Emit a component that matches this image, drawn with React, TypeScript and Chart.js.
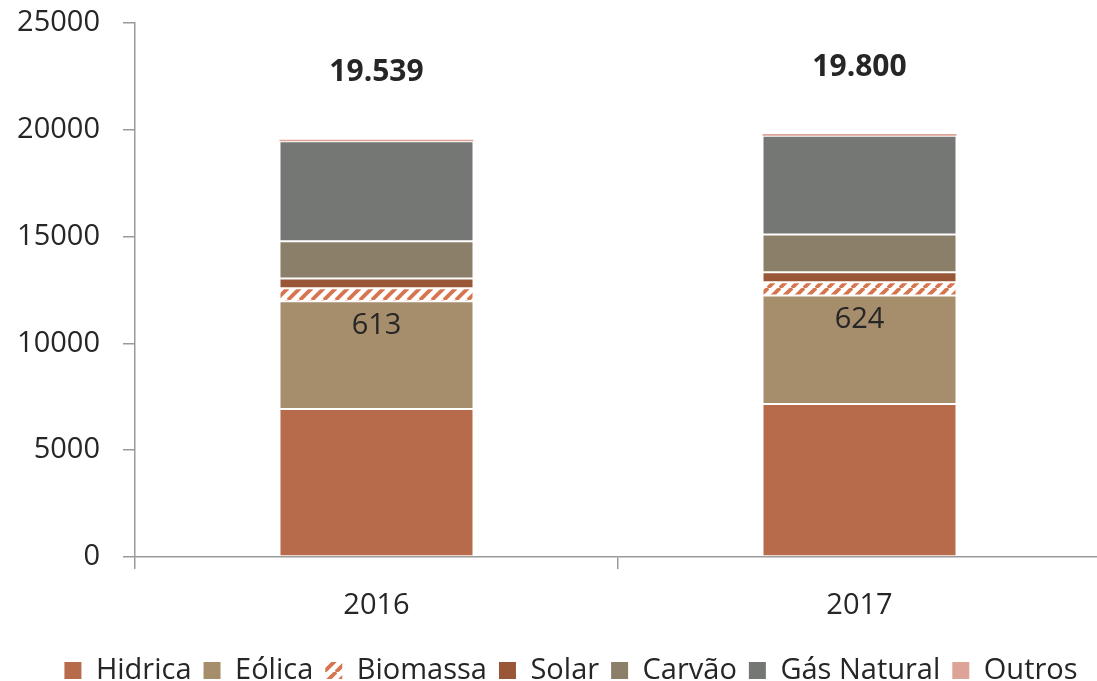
import React, { useEffect, useRef } from "react";
import { Chart, registerables } from "chart.js";

Chart.register(...registerables);

const categories = ["2016", "2017"];
const hidrica = [6930, 7160];
const eolica = [5040, 5080];
const biomassa = [613, 624];
const solar = [450, 470];
const carvao = [1750, 1770];
const gasNatural = [4680, 4620];
const outros = [76, 76];
const totalLabels = ["19.539", "19.800"];
const biomassaLabels = ["613", "624"];
const yMin = 0;
const yMax = 25000;
const yStep = 5000;

const FONT = "'Open Sans', 'DejaVu Sans', sans-serif";
const TEXT = "#262626";
const AXIS = "#9a9a9a";

function makePattern(): CanvasPattern | string {
  const c = document.createElement("canvas");
  c.width = 12;
  c.height = 12;
  const ctx = c.getContext("2d");
  if (!ctx) return "#D6754F";
  ctx.fillStyle = "#ffffff";
  ctx.fillRect(0, 0, 12, 12);
  ctx.strokeStyle = "#D6754F";
  ctx.lineWidth = 3.8;
  ctx.beginPath();
  for (const o of [-12, 0, 12]) {
    ctx.moveTo(o, 12);
    ctx.lineTo(o + 12, 0);
  }
  ctx.stroke();
  return ctx.createPattern(c, "repeat") || "#D6754F";
}

const labelPlugin = {
  id: "customLabels",
  afterLayout(chart: any) {
    // let y tick labels extend left of the scale box without clipping
    if (chart.scales.y) chart.scales.y.left = 0;
  },
  afterDatasetsDraw(chart: any) {
    const ctx = chart.ctx;
    const n = chart.data.datasets.length;
    const topMeta = chart.getDatasetMeta(n - 1);
    const bioMeta = chart.getDatasetMeta(2);
    ctx.save();
    ctx.textAlign = "center";
    ctx.textBaseline = "middle";
    ctx.fillStyle = TEXT;
    topMeta.data.forEach((el: any, i: number) => {
      ctx.font = `bold 30px ${FONT}`;
      ctx.fillText(totalLabels[i], el.x, el.y - 67);
    });
    bioMeta.data.forEach((el: any, i: number) => {
      ctx.font = `29px ${FONT}`;
      ctx.fillText(biomassaLabels[i], el.x, el.base + 24);
    });
    ctx.restore();
  },
};

export default function App() {
  const ref = useRef<HTMLCanvasElement>(null);
  useEffect(() => {
    if (!ref.current) return;
    const pattern = makePattern();
    const border = "rgba(255,255,255,0.25)";
    const mk = (label: string, data: number[], color: any, bw = 1) => ({
      label,
      data,
      backgroundColor: color,
      borderColor: border,
      borderWidth: bw,
      borderSkipped: false,
    });
    const chart = new Chart(ref.current, {
      type: "bar",
      data: {
        labels: categories,
        datasets: [
          mk("Hidrica", hidrica, "#B86B4B"),
          mk("Eólica", eolica, "#A68D6C"),
          mk("Biomassa", biomassa, pattern),
          mk("Solar", solar, "#9A5738"),
          mk("Carvão", carvao, "#8B7F69"),
          mk("Gás Natural", gasNatural, "#757775"),
          mk("Outros", outros, "#DDA396", 0),
        ] as any,
      },
      options: {
        responsive: false,
        animation: false,
        layout: { padding: { left: 41, right: 0, top: 23, bottom: 0 } },
        datasets: { bar: { categoryPercentage: 1, barPercentage: 0.4017 } } as any,
        plugins: {
          tooltip: { enabled: false },
          legend: {
            position: "bottom",
            labels: {
              font: { family: FONT, size: 29 },
              color: TEXT,
              boxWidth: 17,
              boxHeight: 17,
              padding: 12,
              generateLabels: (c: any) =>
                Chart.defaults.plugins.legend.labels
                  .generateLabels(c)
                  .map((l: any) => ({ ...l, lineWidth: 0 })),
            },
          },
        },
        scales: {
          x: {
            stacked: true,
            afterFit: (s: any) => {
              s.height = 87;
            },
            grid: {
              drawOnChartArea: false,
              drawTicks: true,
              tickLength: 12,
              color: AXIS,
              lineWidth: 1.5,
            },
            border: { color: AXIS, width: 1.5 },
            ticks: { font: { family: FONT, size: 29 }, color: TEXT, padding: 19 },
          },
          y: {
            stacked: true,
            min: yMin,
            max: yMax,
            afterFit: (s: any) => {
              s.width = 94;
              s.paddingTop = 0;
              s.paddingBottom = 0;
            },
            grid: {
              drawOnChartArea: false,
              drawTicks: true,
              tickLength: 12,
              color: AXIS,
              lineWidth: 1.5,
            },
            border: { color: AXIS, width: 1.5 },
            ticks: {
              stepSize: yStep,
              font: { family: FONT, size: 29 },
              color: TEXT,
              padding: 23,
              callback: (v: any) => String(v),
            },
          },
        },
      },
      plugins: [labelPlugin],
    });
    return () => chart.destroy();
  }, []);
  return (
    <div
      style={{
        position: "fixed",
        left: 0,
        top: 0,
        width: 1097,
        height: 681,
        overflow: "hidden",
        background: "#fff",
      }}
    >
      <canvas ref={ref} width={1101} height={695} style={{ display: "block" }} />
    </div>
  );
}
